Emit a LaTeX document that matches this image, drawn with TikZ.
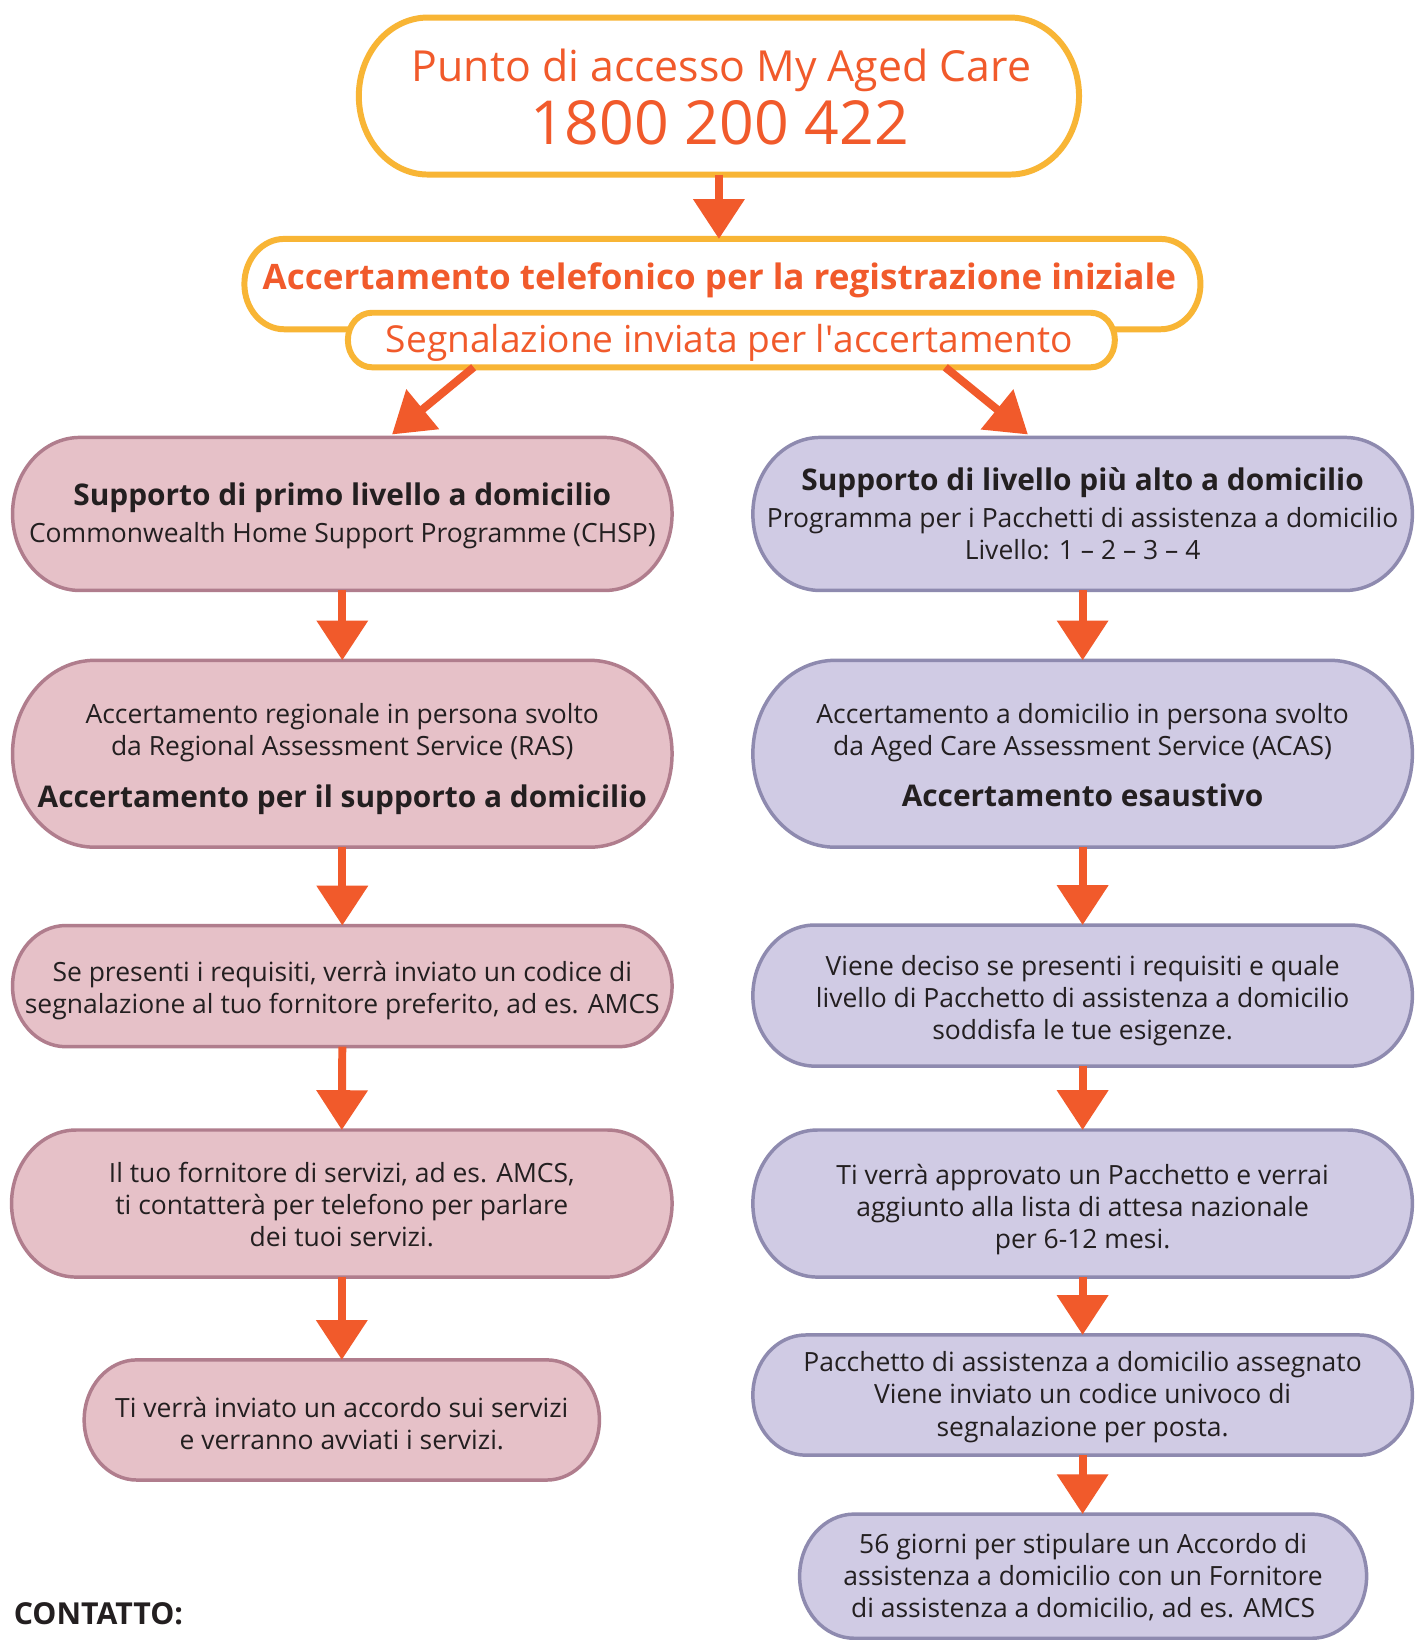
\documentclass[tikz,border=0pt]{standalone}
\usepackage{fontspec}
\setmainfont{Open Sans}
\usetikzlibrary{arrows.meta,calc}
\definecolor{orng}{HTML}{F15A2B}
\definecolor{ylw}{HTML}{F8B535}
\definecolor{pinkf}{HTML}{E6C1C8}
\definecolor{pinkd}{HTML}{B07D8D}
\definecolor{lavf}{HTML}{D0CBE4}
\definecolor{lavd}{HTML}{8E8AAF}
\definecolor{ink}{HTML}{231F20}
\pgfdeclarelayer{bg}
\pgfsetlayers{bg,main}
\newcommand\bodyf{\fontsize{13.3}{16.2}\selectfont}
\newcommand\hbf{\fontsize{15}{18}\selectfont\bfseries}
\newcommand\pillbox[4]{%
  \begin{pgfonlayer}{bg}
  \path[fill=#2,draw=#3,line width=#4] let \p1=(#1.north west), \p2=(#1.south east),
    \n1={(\y1-\y2)/2}, \n2={0.88*\n1} in
    (\x1+\n2,\y1) -- (\x2-\n2,\y1)
    arc[start angle=90,end angle=-90,x radius=\n2,y radius=\n1]
    -- (\x1+\n2,\y2)
    arc[start angle=270,end angle=90,x radius=\n2,y radius=\n1] -- cycle;
  \end{pgfonlayer}}
\tikzset{
  x=0.5pt, y=-0.5pt,
  holder/.style={inner sep=0pt},
  txt/.style={inner sep=0pt, align=center, text=ink, font=\bodyf},
  arr/.style={draw=orng, line width=4pt, -{Triangle[width=25pt,length=20pt]}},
  otext/.style={text=orng, inner sep=0pt, anchor=base},
}
\begin{document}
\begin{tikzpicture}
\begin{pgfonlayer}{bg}
\path[fill=white, use as bounding box] (0,0) rectangle (1413,1640);
\end{pgfonlayer}

% top boxes
\node[holder, minimum width=361.5pt, minimum height=78.5pt] (top) at (722.5,96.5) {};
\node[otext, font=\fontsize{21.5}{25}\selectfont] (topt1) at (725,82) {Punto di accesso My Aged Care};
\node[otext, font=\fontsize{30.5}{35}\selectfont] (topt2) at (723,145.5) {1800 200 422};
\node[holder, minimum width=480pt, minimum height=45pt] (b2) at (726,285.5) {};
\node[otext, font=\fontsize{17.6}{21}\selectfont\bfseries] (b2t) at (723,291.2) {Accertamento telefonico per la registrazione iniziale};
\node[holder, minimum width=385pt, minimum height=27pt] (b3) at (735,341.7) {};
\node[otext, font=\fontsize{18.65}{22}\selectfont] (b3t) at (733,354.7) {Segnalazione inviata per l\textquotesingle accertamento};

% left column
\node[holder, minimum width=331pt, minimum height=76.5pt] (L1) at (344,516.5) {};
\node[txt] (L1t) at ($(L1)+(0,2)$)
  {{\hbf Supporto di primo livello a domicilio}\\[2.5pt]Commonwealth Home Support Programme (CHSP)};
\node[holder, minimum width=331pt, minimum height=93.5pt] (L2) at (344,757.5) {};
\node[txt] (L2t) at ($(L2)+(0,5)$)
  {Accertamento regionale in persona svolto\\da Regional Assessment Service (RAS)\\[10pt]{\hbf Accertamento per il supporto a domicilio}};
\node[holder, minimum width=331pt, minimum height=60.5pt] (L3) at (344,991) {};
\node[txt] (L3t) at ($(L3)+(0,4.5)$)
  {Se presenti i requisiti, verrà inviato un codice di\\segnalazione al tuo fornitore preferito, ad es. AMCS};
\node[holder, minimum width=331.5pt, minimum height=73.5pt] (L4) at (343.5,1209.5) {};
\node[txt] (L4t) at ($(L4)+(0,1)$)
  {Il tuo fornitore di servizi, ad es. AMCS,\\ti contatterà per telefono per parlare\\dei tuoi servizi.};
\node[holder, minimum width=258.5pt, minimum height=60pt] (L5) at (343.5,1427) {};
\node[txt] (L5t) at ($(L5)+(0,3.5)$)
  {Ti verrà inviato un accordo sui servizi\\e verranno avviati i servizi.};

% right column
\node[holder, minimum width=331pt, minimum height=76.5pt] (R1) at (1088,516.5) {};
\node[txt] (R1t) at ($(R1)+(0,0)$)
  {{\hbf Supporto di livello più alto a domicilio}\\[2pt]Programma per i Pacchetti di assistenza a domicilio\\Livello: 1 – 2 – 3 – 4};
\node[holder, minimum width=331pt, minimum height=93.5pt] (R2) at (1088,757.5) {};
\node[txt] (R2t) at ($(R2)+(0,1.5)$)
  {Accertamento a domicilio in persona svolto\\da Aged Care Assessment Service (ACAS)\\[9.5pt]{\hbf Accertamento esaustivo}};
\node[holder, minimum width=331pt, minimum height=70.5pt] (R3) at (1088,1000.5) {};
\node[txt] (R3t) at ($(R3)+(0,5)$)
  {Viene deciso se presenti i requisiti e quale\\livello di Pacchetto di assistenza a domicilio\\soddisfa le tue esigenze.};
\node[holder, minimum width=331pt, minimum height=73.5pt] (R4) at (1088,1209.5) {};
\node[txt] (R4t) at ($(R4)+(0,6)$)
  {Ti verrà approvato un Pacchetto e verrai\\aggiunto alla lista di attesa nazionale\\per 6-12 mesi.};
\node[holder, minimum width=331pt, minimum height=60pt] (R5) at (1088,1402) {};
\node[txt] (R5t) at ($(R5)+(0,2)$)
  {Pacchetto di assistenza a domicilio assegnato\\Viene inviato un codice univoco di\\segnalazione per posta.};
\node[holder, minimum width=284.5pt, minimum height=62pt] (R6) at (1088.5,1584) {};
\node[txt] (R6t) at ($(R6)+(0,1)$)
  {56 giorni per stipulare un Accordo di\\assistenza a domicilio con un Fornitore\\di assistenza a domicilio, ad es. AMCS};

\node[inner sep=0pt, anchor=base west, text=ink, font=\fontsize{15.2}{18}\selectfont\bfseries] (contact) at (13.5,1633) {CONTATTO:};

% shapes
\pillbox{top}{white}{ylw}{3pt}
\pillbox{b2}{white}{ylw}{3pt}
\pillbox{b3}{white}{ylw}{3pt}
\foreach \nm in {L1,L2,L3,L4,L5}{\pillbox{\nm}{pinkf}{pinkd}{1.75pt}}
\foreach \nm in {R1,R2,R3,R4,R5,R6}{\pillbox{\nm}{lavf}{lavd}{1.75pt}}

% arrows
\draw[arr] (top.south) -- (top.south |- b2.north);
\draw[arr] ([xshift=-129.5pt]b3.south) -- ([xshift=25pt,yshift=1.5pt]L1.north);
\draw[arr] ([xshift=107.5pt]b3.south) -- ([xshift=-27.5pt,yshift=1.5pt]R1.north);
\draw[arr] (L1.south) -- (L2.north);
\draw[arr] (L2.south) -- (L3.north);
\draw[arr] (L3.south) -- (L4.north);
\draw[arr] (L4.south) -- (L5.north);
\draw[arr] (R1.south) -- (R2.north);
\draw[arr] (R2.south) -- (R3.north);
\draw[arr] (R3.south) -- (R4.north);
\draw[arr] (R4.south) -- (R5.north);
\draw[arr] (R5.south) -- (R5.south |- R6.north);
\end{tikzpicture}
\end{document}
